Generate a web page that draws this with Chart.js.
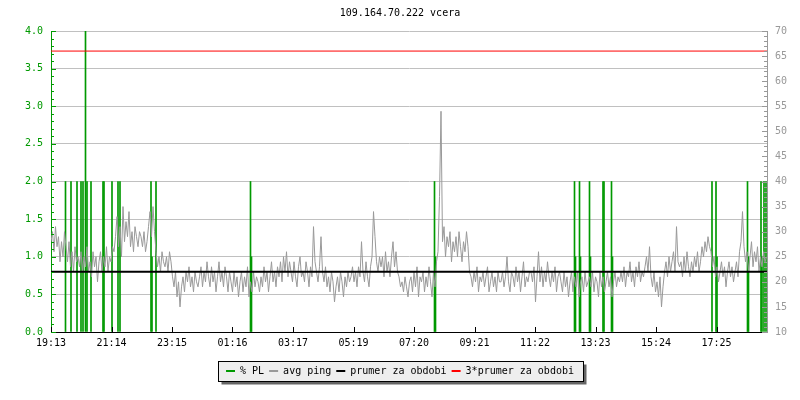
<!DOCTYPE html>
<html>
<head>
<meta charset="utf-8">
<title>109.164.70.222 vcera</title>
<script src="https://cdn.jsdelivr.net/npm/chart.js@4.4.1/dist/chart.umd.min.js"></script>
<style>
  html, body { margin: 0; padding: 0; background: #fff; }
  #wrap { width: 800px; height: 400px; }
</style>
</head>
<body>
<div id="wrap"><canvas id="pingChart"></canvas></div>
<script>
// x axis: minutes from 19:13, one label every 121 minutes
const xLabels = ['19:13', '21:14', '23:15', '01:16', '03:17', '05:19', '07:20', '09:21', '11:22', '13:23', '15:24', '17:25'];
const xTickStep = 121;
const xMax = 1432;

// avg ping [ms], one sample every 3 minutes (20 per hour)
const pingStep = 3;
const pingValues = [
    28, 30, 26, 31, 27, 29, 24, 28, 25, 30, 27, 24, 28, 23, 26, 22, 27, 24, 25, 23,
    26, 22, 25, 23, 27, 22, 24, 21, 26, 23, 25, 20, 24, 26, 22, 25, 23, 27, 22, 25,
    24, 27, 26, 29, 33, 27, 31, 25, 35, 28, 32, 29, 34, 27, 30, 26, 31, 29, 27, 30,
    29, 27, 30, 26, 28, 31, 34, 29, 35, 30, 26, 23, 25, 22, 26, 24, 23, 25, 22, 26,
    24, 21, 19, 22, 17, 20, 15, 19, 21, 18, 22, 20, 23, 19, 21, 18, 22, 20, 19, 21,
    23, 19, 22, 20, 24, 21, 19, 23, 20, 22, 18, 21, 24, 20, 22, 19, 23, 21, 18, 22,
    20, 18, 22, 19, 21, 17, 20, 22, 18, 21, 19, 23, 17, 20, 18, 22, 19, 21, 20, 18,
    21, 19, 23, 20, 22, 18, 21, 24, 20, 22, 19, 23, 21, 24, 20, 25, 22, 26, 21, 24,
    22, 20, 24, 21, 19, 23, 25, 21, 22, 20, 24, 22, 19, 23, 21, 31, 24, 22, 20, 23,
    29, 22, 20, 23, 19, 21, 18, 22, 20, 16, 19, 21, 18, 22, 20, 17, 21, 19, 22, 20,
    21, 23, 20, 22, 19, 23, 21, 28, 22, 20, 24, 21, 19, 23, 25, 34, 29, 24, 22, 25,
    23, 25, 21, 26, 22, 24, 21, 25, 28, 23, 26, 22, 21, 19, 20, 18, 21, 19, 17, 20,
    21, 18, 22, 19, 23, 17, 21, 20, 22, 18, 21, 19, 23, 20, 17, 22, 19, 24, 26, 37,
    54, 28, 31, 25, 29, 27, 30, 24, 28, 26, 29, 25, 30, 27, 24, 28, 26, 30, 27, 22,
    21, 19, 22, 20, 23, 18, 21, 20, 22, 19, 21, 23, 18, 20, 22, 19, 21, 18, 22, 20,
    20, 22, 19, 21, 25, 20, 18, 22, 21, 19, 23, 20, 22, 18, 21, 24, 19, 21, 20, 22,
    22, 20, 23, 16, 21, 26, 20, 23, 19, 22, 20, 24, 21, 19, 22, 20, 23, 18, 21, 22,
    20, 18, 22, 19, 21, 17, 20, 22, 18, 21, 19, 22, 17, 20, 21, 18, 22, 19, 20, 21,
    19, 22, 18, 21, 20, 17, 22, 19, 21, 18, 20, 22, 19, 21, 17, 20, 22, 19, 21, 20,
    22, 20, 23, 19, 22, 21, 24, 20, 22, 19, 23, 21, 24, 20, 22, 21, 23, 25, 22, 27,
    21, 19, 22, 18, 20, 17, 21, 15, 19, 22, 24, 21, 25, 22, 24, 26, 22, 31, 24, 23,
    24, 21, 25, 22, 26, 23, 21, 24, 22, 25, 23, 26, 22, 24, 27, 25, 28, 26, 29, 27,
    26, 23, 25, 21, 23, 20, 22, 24, 21, 23, 19, 22, 24, 21, 23, 20, 22, 24, 21, 26,
    28, 34, 27, 24, 26, 22, 25, 28, 23, 26, 24, 27, 22, 25, 23, 26, 24, 25
];

// packet loss [%], minute of sample and value
const plTimes = [29, 40, 52, 60, 64, 69, 72, 80, 104, 106, 122, 134, 138, 200, 202, 210,
    399, 401, 767, 769, 1047, 1049, 1057, 1059, 1077, 1079, 1104, 1106, 1121, 1123,
    1322, 1330, 1332, 1393, 1395, 1420, 1422, 1426, 1430];
const plValues = [2, 2, 2, 2, 2, 4, 2, 2, 2, 2, 2, 2, 2, 2, 1, 2,
    2, 1, 2, 1, 2, 1, 2, 1, 2, 1, 2, 2, 2, 1,
    2, 2, 1, 2, 1, 2, 1, 2, 2];

const avgPing = 22;

const FONT = '"DejaVu Sans Mono", monospace';
const green = '#009900';
const gray = '#999999';

// small inward tick marks like the original graph
const tickMarks = {
    id: 'tickMarks',
    afterDatasetsDraw(chart) {
        const { ctx, chartArea: a, scales } = chart;
        ctx.save();
        ctx.lineWidth = 1;
        ctx.beginPath();
        ctx.strokeStyle = green;
        for (let k = 0; k <= 40; k++) {
            const py = Math.round(scales.y.getPixelForValue(k / 10)) + 0.5;
            ctx.moveTo(a.left, py);
            ctx.lineTo(a.left + (k % 5 ? 3 : 5), py);
        }
        ctx.stroke();
        ctx.beginPath();
        ctx.strokeStyle = gray;
        for (let v = 10; v <= 70; v++) {
            const py = Math.round(scales.y1.getPixelForValue(v)) + 0.5;
            ctx.moveTo(a.right, py);
            ctx.lineTo(a.right - (v % 5 ? 3 : 5), py);
        }
        ctx.stroke();
        ctx.beginPath();
        ctx.strokeStyle = '#000';
        scales.x.ticks.forEach(t => {
            const px = Math.round(scales.x.getPixelForValue(t.value)) + 0.5;
            ctx.moveTo(px, a.bottom);
            ctx.lineTo(px, a.bottom - 5);
        });
        ctx.stroke();
        ctx.restore();
    }
};

// grey box with shadow behind the legend
const legendBox = {
    id: 'legendBox',
    beforeDraw(chart) {
        const boxes = chart.legend && chart.legend.legendHitBoxes;
        if (!boxes || !boxes.length) return;
        const first = boxes[0], last = boxes[boxes.length - 1];
        const l = Math.round(first.left - 8) + 0.5;
        const r = Math.round(last.left + last.width + 9) + 0.5;
        const t = Math.round(first.top - 5) + 0.5;
        const b = Math.round(first.top + first.height + 5) + 0.5;
        const ctx = chart.ctx;
        ctx.save();
        ctx.fillStyle = '#666';
        ctx.fillRect(l + 3, t + 3, r - l, b - t);
        ctx.fillStyle = '#eeeeee';
        ctx.fillRect(l, t, r - l, b - t);
        ctx.strokeStyle = '#000';
        ctx.lineWidth = 1;
        ctx.strokeRect(l, t, r - l, b - t);
        ctx.restore();
    }
};

Chart.defaults.font.family = FONT;
Chart.defaults.font.size = 10;

new Chart(document.getElementById('pingChart'), {
    type: 'bar',
    data: {
        datasets: [
            {
                type: 'bar',
                label: '% PL',
                data: plTimes.map((t, i) => ({ x: t, y: plValues[i] })),
                backgroundColor: green,
                barThickness: 1,
                yAxisID: 'y',
                order: 3
            },
            {
                type: 'line',
                label: 'avg ping',
                data: pingValues.map((v, i) => ({ x: i * pingStep, y: v })),
                borderColor: gray,
                backgroundColor: gray,
                borderWidth: 1,
                pointRadius: 0,
                tension: 0,
                yAxisID: 'y1',
                order: 2
            },
            {
                type: 'line',
                label: 'prumer za obdobi',
                data: [{ x: 0, y: avgPing }, { x: xMax, y: avgPing }],
                borderColor: '#000',
                backgroundColor: '#000',
                borderWidth: 2,
                pointRadius: 0,
                yAxisID: 'y1',
                order: 1
            },
            {
                type: 'line',
                label: '3*prumer za obdobi',
                data: [{ x: 0, y: 3 * avgPing }, { x: xMax, y: 3 * avgPing }],
                borderColor: '#ff0000',
                backgroundColor: '#ff0000',
                borderWidth: 1,
                pointRadius: 0,
                yAxisID: 'y1',
                order: 0
            }
        ]
    },
    options: {
        responsive: true, maintainAspectRatio: false,
        animation: false,
        layout: { padding: { left: 0, right: 0, top: 0, bottom: 14 } },
        plugins: {
            title: {
                display: true,
                text: '109.164.70.222 vcera',
                color: '#000',
                font: { family: FONT, size: 10, weight: 'normal' },
                padding: { top: 7, bottom: 12 }
            },
            legend: {
                position: 'bottom',
                labels: {
                    color: '#000',
                    boxWidth: 9,
                    boxHeight: 2,
                    padding: 5,
                    font: { family: FONT, size: 10 },
                    generateLabels: chart => chart.data.datasets.map((d, i) => ({
                        text: d.label,
                        fillStyle: d.backgroundColor,
                        strokeStyle: 'transparent',
                        lineWidth: 0,
                        datasetIndex: i
                    }))
                }
            },
            tooltip: { enabled: false }
        },
        scales: {
            x: {
                type: 'linear',
                min: 0, max: xMax,
                offset: false,
                afterFit: s => { s.height = 29; },
                afterBuildTicks: s => { s.ticks = xLabels.map((l, i) => ({ value: i * xTickStep })); },
                grid: { display: false, drawTicks: false },
                border: { display: true, color: '#000', width: 1 },
                ticks: {
                    color: '#000', padding: 5, maxRotation: 0, autoSkip: false,
                    font: { family: FONT, size: 10 },
                    callback: (v, i) => xLabels[i]
                }
            },
            y: {
                position: 'left',
                min: 0, max: 4,
                afterFit: s => { s.width = 51; },
                grid: {
                    color: c => c.tick && c.tick.value === 0 ? 'transparent' : '#c0c0c0',
                    drawTicks: false
                },
                border: { display: true, color: green, width: 1 },
                ticks: {
                    stepSize: 0.5, color: green, padding: 8,
                    font: { family: FONT, size: 10 },
                    callback: v => v.toFixed(1)
                }
            },
            y1: {
                position: 'right',
                min: 10, max: 70,
                afterFit: s => { s.width = 33; },
                grid: { display: false, drawTicks: false },
                border: { display: true, color: gray, width: 1 },
                ticks: {
                    stepSize: 5, color: gray, padding: 8,
                    font: { family: FONT, size: 10 }
                }
            }
        }
    },
    plugins: [tickMarks, legendBox]
});
</script>
</body>
</html>
